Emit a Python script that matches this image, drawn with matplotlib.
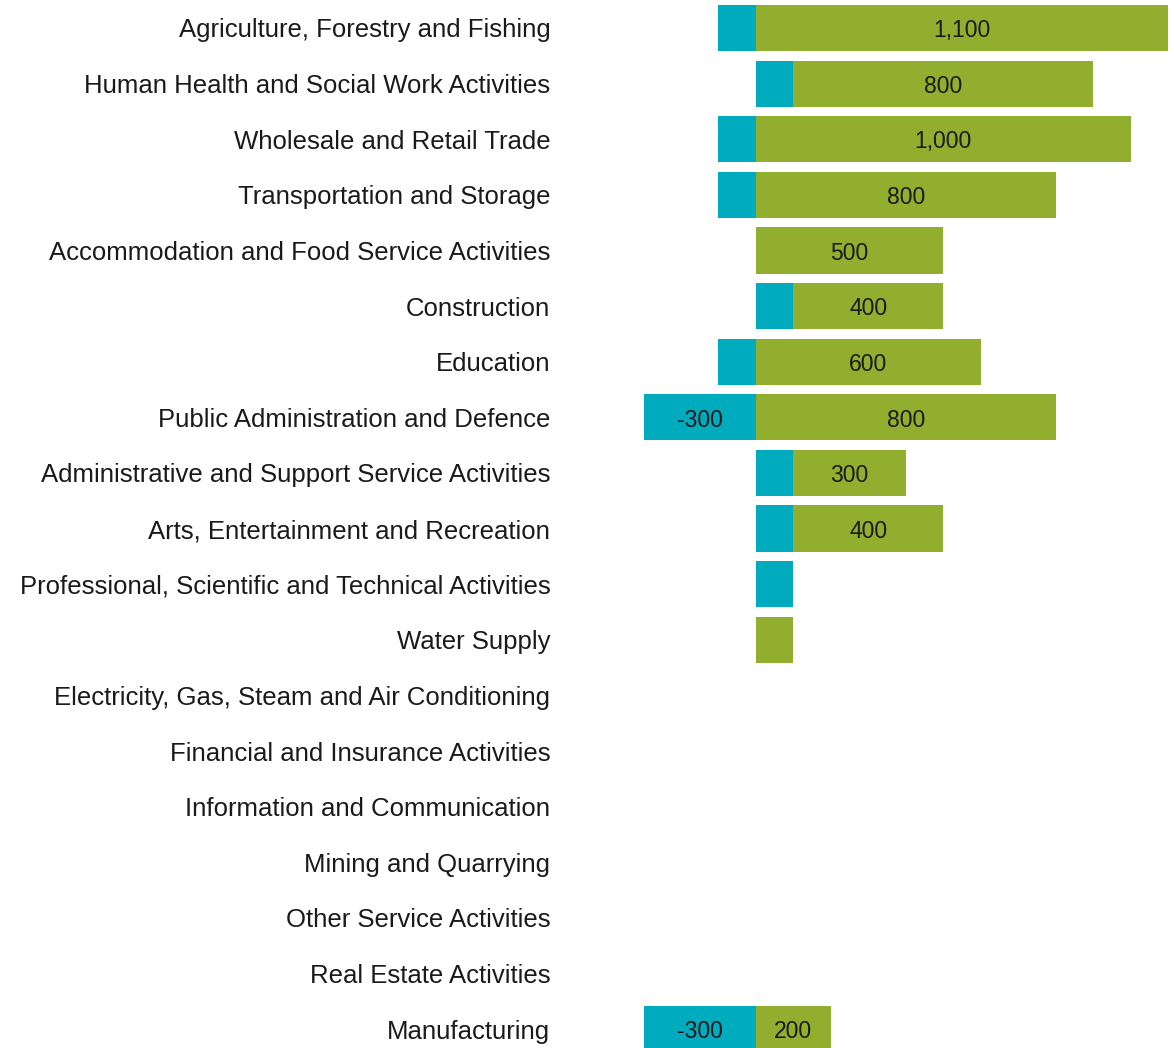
import matplotlib.pyplot as plt
import numpy as np

plt.rcParams['font.family'] = ['Liberation Sans', 'DejaVu Sans']

# categories top to bottom
sectors = [
    "Agriculture, Forestry and Fishing",
    "Human Health and Social Work Activities",
    "Wholesale and Retail Trade",
    "Transportation and Storage",
    "Accommodation and Food Service Activities",
    "Construction",
    "Education",
    "Public Administration and Defence",
    "Administrative and Support Service Activities",
    "Arts, Entertainment and Recreation",
    "Professional, Scientific and Technical Activities",
    "Water Supply",
    "Electricity, Gas, Steam and Air Conditioning",
    "Financial and Insurance Activities",
    "Information and Communication",
    "Mining and Quarrying",
    "Other Service Activities",
    "Real Estate Activities",
    "Manufacturing",
]
teal_vals = [-100, 100, -100, -100, 0, 100, -100, -300, 100, 100, 100, 0, 0, 0, 0, 0, 0, 0, -300]
green_vals = [1100, 800, 1000, 800, 500, 400, 600, 800, 300, 400, 0, 100, 0, 0, 0, 0, 0, 0, 200]

TEAL = "#00abbd"
GREEN = "#92ae2e"

fig = plt.figure(figsize=(11.74, 10.48), dpi=100)
ax = fig.add_axes([560 / 1174, 0, 614 / 1174, 1])

y = np.arange(len(sectors))
teal = np.array(teal_vals)
green = np.array(green_vals)
# positive teal sits at the base, green stacks after it
green_left = np.where(teal > 0, teal, 0)

h = 0.83
ax.barh(y, teal, height=h, color=TEAL, linewidth=0)
ax.barh(y, green, left=green_left, height=h, color=GREEN, linewidth=0)

fs = 16.5
for i in range(len(sectors)):
    if abs(teal[i]) >= 200:
        ax.text(teal[i] / 2, y[i] + 0.05, f"{teal[i]:,}", ha="center", va="center",
                fontsize=fs, color="#1a1a1a")
    if green[i] >= 200:
        ax.text(green_left[i] + green[i] / 2, y[i] + 0.05, f"{green[i]:,}", ha="center", va="center",
                fontsize=fs, color="#1a1a1a")

ax.set_xlim(-523, 1116)
ax.set_ylim(18.34, -0.503)
ax.set_yticks(y)
ax.set_yticklabels(sectors, fontsize=18.5, color="#1a1a1a")
ax.tick_params(axis="y", length=0, pad=7)
ax.set_xticks([])
for s in ax.spines.values():
    s.set_visible(False)

fig.savefig("out.png", dpi=100)
